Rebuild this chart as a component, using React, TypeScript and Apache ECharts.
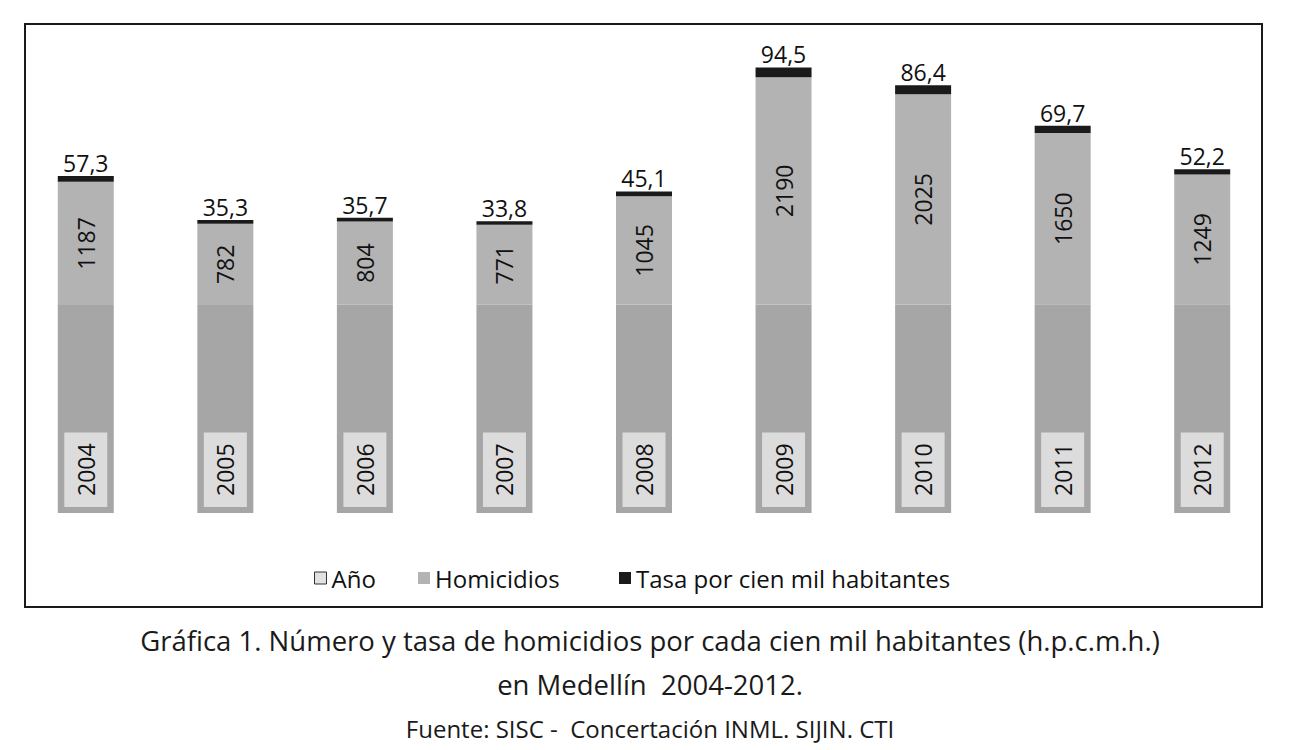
import { useEffect, useRef } from 'react';
import * as echarts from 'echarts';

const years = ['2004', '2005', '2006', '2007', '2008', '2009', '2010', '2011', '2012'];
const yearValues = [2004, 2005, 2006, 2007, 2008, 2009, 2010, 2011, 2012];
const homicidios = [1187, 782, 804, 771, 1045, 2190, 2025, 1650, 1249];
const tasa = [57.3, 35.3, 35.7, 33.8, 45.1, 94.5, 86.4, 69.7, 52.2];

const FONT = '"Open Sans", "Noto Sans", sans-serif';
const fmtComma = (v: number) => v.toFixed(1).replace('.', ',');

export default function App() {
  const chartRef = useRef<HTMLDivElement>(null);

  useEffect(() => {
    if (!chartRef.current) return;
    const chart = echarts.init(chartRef.current, undefined, { renderer: 'svg' });

    const legendText = { fontFamily: FONT, fontSize: 24, lineHeight: 26, color: '#111' };
    const legendBase = {
      top: 565,
      padding: 0,
      icon: 'rect',
      itemWidth: 12,
      itemHeight: 12,
      textStyle: legendText,
    };

    const option = {
      animation: false,
      textStyle: { fontFamily: FONT },
      title: [
        {
          text: 'Gráfica 1. Número y tasa de homicidios por cada cien mil habitantes (h.p.c.m.h.)',
          left: 'center',
          top: 624,
          padding: 0,
          textStyle: { fontFamily: FONT, fontSize: 27.5, lineHeight: 33, fontWeight: 'normal', color: '#1a1a1a' },
        },
        {
          text: 'en Medellín  2004-2012.',
          left: 'center',
          top: 668,
          padding: 0,
          textStyle: { fontFamily: FONT, fontSize: 27.5, lineHeight: 33, fontWeight: 'normal', color: '#1a1a1a' },
        },
        {
          text: 'Fuente: SISC -  Concertación INML. SIJIN. CTI',
          left: 'center',
          top: 714,
          padding: 0,
          textStyle: { fontFamily: FONT, fontSize: 24, lineHeight: 28, fontWeight: 'normal', color: '#1a1a1a' },
        },
      ],
      legend: [
        {
          ...legendBase,
          left: 314,
          data: [{ name: 'Año', itemStyle: { color: '#e2e2e2', borderColor: '#333', borderWidth: 1 } }],
        },
        {
          ...legendBase,
          left: 418,
          data: ['Homicidios'],
        },
        {
          ...legendBase,
          left: 619,
          data: ['Tasa por cien mil habitantes'],
        },
      ],
      grid: { left: 16, right: 28, top: 46, bottom: 237 },
      xAxis: {
        type: 'category',
        data: years,
        show: false,
      },
      yAxis: {
        type: 'value',
        min: 0,
        max: 4500,
        show: false,
      },
      series: [
        {
          name: 'Año',
          type: 'bar',
          stack: 'total',
          barWidth: 56,
          data: yearValues,
          itemStyle: { color: '#a6a6a7' },
          label: {
            show: true,
            position: 'insideBottom',
            distance: 6,
            rotate: 90,
            align: 'left',
            verticalAlign: 'middle',
            fontFamily: FONT,
            fontSize: 23,
            lineHeight: 23,
            color: '#111',
            backgroundColor: '#dcdcdd',
            padding: [10, 11],
            formatter: '{c}',
          },
        },
        {
          name: 'Homicidios',
          type: 'bar',
          stack: 'total',
          barWidth: 56,
          data: homicidios,
          itemStyle: { color: '#b3b3b3' },
          label: {
            show: true,
            position: 'inside',
            rotate: 90,
            align: 'center',
            verticalAlign: 'middle',
            fontFamily: FONT,
            fontSize: 23,
            color: '#111',
            formatter: '{c}',
          },
        },
        {
          name: 'Tasa por cien mil habitantes',
          type: 'bar',
          stack: 'total',
          barWidth: 56,
          data: tasa,
          itemStyle: { color: '#1a1a1a' },
          label: {
            show: true,
            position: 'top',
            distance: 1,
            fontFamily: FONT,
            fontSize: 23,
            lineHeight: 24,
            color: '#111',
            formatter: (p: any) => fmtComma(p.value),
          },
        },
      ],
      graphic: [
        {
          type: 'rect',
          shape: { x: 25, y: 24, width: 1237, height: 583 },
          style: { fill: 'none', stroke: '#1a1a1a', lineWidth: 2 },
          silent: true,
        },
      ],
    };

    chart.setOption(option);

    return () => {
      chart.dispose();
    };
  }, []);

  return (
    <div
      ref={chartRef}
      style={{ position: 'absolute', left: 0, top: 0, width: 1300, height: 750, background: '#fff' }}
    />
  );
}
